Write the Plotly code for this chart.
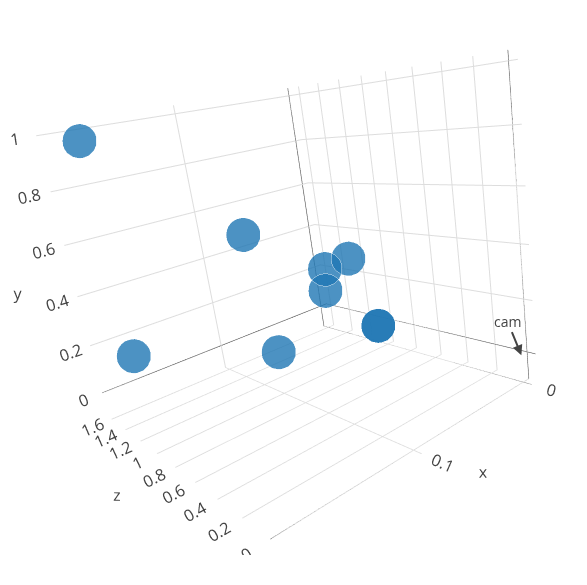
import plotly.graph_objects as go

x_vals = [0.179, 0.121, 0.190, 0.104, 0.042, 0.055, 0.059, 0.039, 0.039]
y_vals = [0.962, 0.574, 0.226, 0.091, 0.365, 0.337, 0.256, 0.099, 0.099]
z_vals = [1.448, 0.845, 1.147, 0.933, 0.857, 0.945, 0.926, 0.706, 0.706]

fig = go.Figure(go.Scatter3d(x=x_vals, y=y_vals, z=z_vals, mode="markers",
    marker=dict(size=20, color="#1f77b4", opacity=0.8, line=dict(width=1, color="white"))))
ax = dict(showbackground=False, gridcolor="#dddddd", zeroline=True, zerolinecolor="#444", showspikes=False,
          tickfont=dict(size=14))
tf = dict(size=16)
fig.update_layout(width=587, height=585, margin=dict(l=0, r=0, t=0, b=38),
    font=dict(family="Open Sans, sans-serif", color="#444"),
    scene=dict(
        xaxis=dict(ax, title=dict(text="x", font=tf), range=[-0.006, 0.196], dtick=0.1),
        yaxis=dict(ax, title=dict(text="y", font=tf), range=[-0.105, 1.033], dtick=0.2),
        zaxis=dict(ax, title=dict(text="z", font=tf), range=[-0.05, 1.65], dtick=0.2),
        aspectmode="manual",
        aspectratio=dict(x=1, y=0.98, z=1),
        camera=dict(up=dict(x=-0.30, y=0.945, z=0.15),
                    center=dict(x=-0.008, y=-0.083, z=-0.037),
                    eye=dict(x=1.118, y=0.460, z=-1.615)),
        annotations=[dict(x=0, y=0, z=0, text="cam", showarrow=True, arrowhead=2, arrowsize=1, arrowwidth=2, ax=-14, ay=-34, font=dict(size=14))],
    ))
fig.write_html("out.html")
